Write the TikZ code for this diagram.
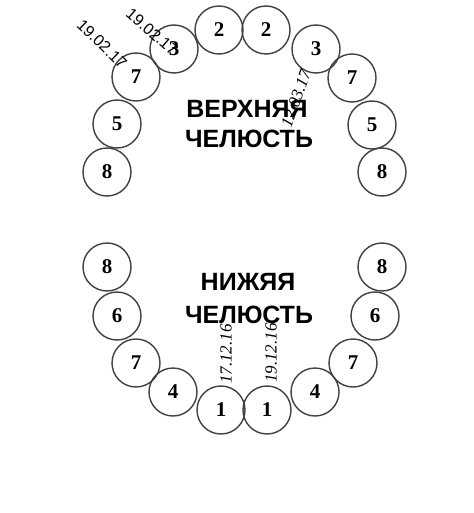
\documentclass[tikz,border=0pt]{standalone}
\usepackage{fontspec}
\setmainfont{Liberation Serif}
\newfontfamily\labelsans{Liberation Sans}
\begin{document}
\begin{tikzpicture}[x=1pt,y=-1pt,
  tooth/.style={circle,draw=black!75,line width=1.4pt,minimum size=48pt,inner sep=0pt,
    font=\fontsize{21}{21}\selectfont\bfseries},
  jaw/.style={font=\labelsans\fontsize{25}{25}\selectfont\bfseries,anchor=base,inner sep=0pt},
  datesans/.style={font=\labelsans\fontsize{16}{16}\selectfont,inner sep=0pt},
  dateserif/.style={font=\fontsize{17}{17}\selectfont\itshape,inner sep=0pt}]
\useasboundingbox (0,0) rectangle (473,513);
% upper jaw
\node[tooth] (u2l) at (219,30) {2};
\node[tooth] (u2r) at (266,30) {2};
\node[tooth] (u3l) at (174,49) {3};
\node[tooth] (u3r) at (316,49) {3};
\node[tooth] (u7l) at (136,77) {7};
\node[tooth] (u7r) at (352,78) {7};
\node[tooth] (u5l) at (117,124) {5};
\node[tooth] (u5r) at (372,125) {5};
\node[tooth] (u8l) at (107,172) {8};
\node[tooth] (u8r) at (382,172) {8};
% lower jaw
\node[tooth] (l8l) at (107,267) {8};
\node[tooth] (l8r) at (382,267) {8};
\node[tooth] (l6l) at (117,316) {6};
\node[tooth] (l6r) at (375,316) {6};
\node[tooth] (l7l) at (136,363) {7};
\node[tooth] (l7r) at (353,363) {7};
\node[tooth] (l4l) at (173,392) {4};
\node[tooth] (l4r) at (315,392) {4};
\node[tooth] (l1l) at (221,410) {1};
\node[tooth] (l1r) at (267,410) {1};
% jaw labels
\node[jaw] (uptitle1) at (247,118) {ВЕРХНЯЯ};
\node[jaw] (uptitle2) at (249,148) {ЧЕЛЮСТЬ};
\node[jaw] (lowtitle1) at (248,290) {НИЖЯЯ};
\node[jaw] (lowtitle2) at (249,323) {ЧЕЛЮСТЬ};
% dates
\node[datesans,rotate=-44] (d1) at (102,44) {19.02.17};
\node[datesans,rotate=-41] (d2) at (152,32) {19.02.17};
\node[dateserif,rotate=70] (d3) at (296,99) {12.03.17};
\node[dateserif,rotate=90] (d4) at (226,354) {17.12.16};
\node[dateserif,rotate=90] (d5) at (271,353) {19.12.16};
\end{tikzpicture}
\end{document}
